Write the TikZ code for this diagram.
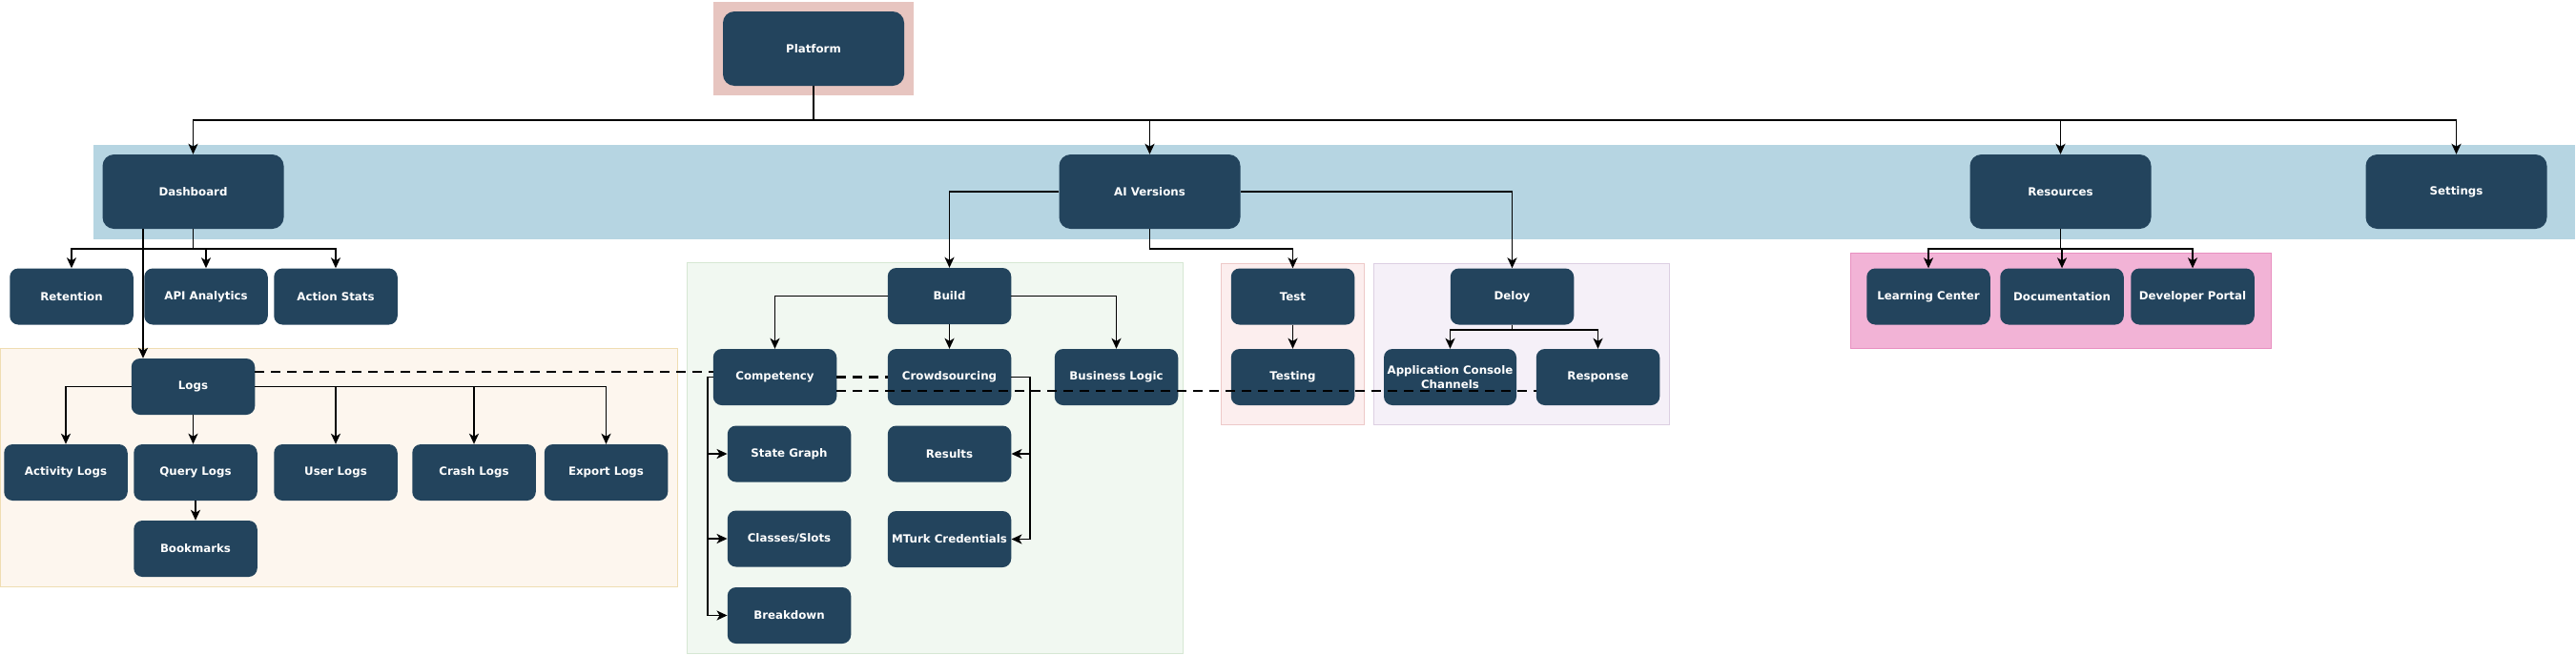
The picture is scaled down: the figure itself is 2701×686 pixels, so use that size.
\documentclass[tikz,border=0pt]{standalone}
\usepackage{fontspec}
\setmainfont{DejaVu Sans}
\usetikzlibrary{arrows.meta,calc}
\definecolor{boxblue}{HTML}{23445D}
\definecolor{platbg}{HTML}{E7C5C0}
\definecolor{bandbg}{HTML}{B6D5E2}
\definecolor{logsbg}{HTML}{FDF6EE}
\definecolor{logsbd}{HTML}{EFDDB2}
\definecolor{greenbg}{HTML}{F1F8F1}
\definecolor{greenbd}{HTML}{D6E7D3}
\definecolor{testbg}{HTML}{FCEEEE}
\definecolor{testbd}{HTML}{EDC9C8}
\definecolor{depbg}{HTML}{F5F0F8}
\definecolor{depbd}{HTML}{DCCFE2}
\definecolor{resbg}{HTML}{F2B3D6}
\definecolor{resbd}{HTML}{E890C0}
\tikzset{
  box/.style={rectangle, rounded corners=9pt, fill=boxblue, text=white,
    font=\fontsize{11.8}{15.5}\selectfont\bfseries, inner sep=0pt, align=center,
    minimum width=129.5pt, minimum height=59pt},
  bigbox/.style={box, rounded corners=12pt, minimum width=190pt, minimum height=78pt},
  arr/.style={draw=black, line width=1.8pt, -{Stealth[length=11pt,width=10pt,inset=3pt]}},
  conn/.style={draw=black, line width=1.8pt},
  dashline/.style={draw=black, line width=2.8pt, dash pattern=on 10pt off 7pt}
}
\begin{document}
\begin{tikzpicture}[x=1pt,y=-1pt]
\useasboundingbox (0,0) rectangle (2701,686);
% group backgrounds
\fill[platbg] (748,2) rectangle (958,100);
\fill[bandbg] (98,152) rectangle (2700,251);
\filldraw[fill=logsbg, draw=logsbd, line width=1pt] (0.5,365) rectangle (710,615);
\filldraw[fill=greenbg, draw=greenbd, line width=1pt] (720,275) rectangle (1240,685);
\filldraw[fill=testbg, draw=testbd, line width=1pt] (1280,276) rectangle (1430,445);
\filldraw[fill=depbg, draw=depbd, line width=1pt] (1440,276) rectangle (1750,445);
\filldraw[fill=resbg, draw=resbd, line width=1pt] (1940,265) rectangle (2381,365);

% nodes
\node[bigbox] (platform) at (853,51) {Platform};
\node[bigbox] (dash) at (202.5,201) {Dashboard};
\node[bigbox] (ai) at (1205.5,201) {AI Versions};
\node[bigbox] (res) at (2160.5,201) {Resources};
\node[bigbox] (set) at (2575.5,201) {Settings};

\node[box] (ret) at (75,311) {Retention};
\node[box] (api) at (216,311) {API Analytics};
\node[box] (act) at (352,311) {Action Stats};

\node[box] (logs) at (202.5,405.5) {Logs};
\node[box] (actl) at (69,495.5) {Activity Logs};
\node[box] (query) at (205,495.5) {Query Logs};
\node[box] (user) at (352,495.5) {User Logs};
\node[box] (crash) at (497,495.5) {Crash Logs};
\node[box] (export) at (635.5,495.5) {Export Logs};
\node[box] (book) at (205,575.5) {Bookmarks};

\node[box] (build) at (995.5,310.5) {Build};
\node[box] (comp) at (812.5,395.5) {Competency};
\node[box] (crowd) at (995.5,395.5) {Crowdsourcing};
\node[box] (bl) at (1170.5,395.5) {Business Logic};
\node[box] (sg) at (827.5,476) {State Graph};
\node[box] (results) at (995.5,476) {Results};
\node[box] (cls) at (827.5,565) {Classes/Slots};
\node[box] (mturk) at (995.5,565.5) {MTurk Credentials};
\node[box] (brk) at (827.5,645.5) {Breakdown};

\node[box] (test) at (1355.5,311) {Test};
\node[box] (testing) at (1355.5,395.5) {Testing};
\node[box] (deloy) at (1585.5,311) {Deloy};
\node[box, minimum width=139pt] (app) at (1520.5,395.5) {Application Console\\Channels};
\node[box] (resp) at (1675.5,395.5) {Response};

\node[box] (lc) at (2022,311) {Learning Center};
\node[box] (doc) at (2162,311) {Documentation};
\node[box] (dp) at (2299,311) {Developer Portal};

% helper coordinates
\coordinate (busP) at (853,126);
\coordinate (busD) at (202.5,261);
\coordinate (dl) at (150,0);
\coordinate (busA) at (1205.5,261);
\coordinate (cx) at (742,0);
\coordinate (cr) at (1080,0);
\coordinate (busT) at (1585.5,346);
\coordinate (busR) at (2160.5,261);
\coordinate (yd1) at (0,390);
\coordinate (yd2) at (0,410);

% Platform
\draw[arr] (platform.south) -- (busP) -| (dash.north);
\draw[arr] (platform.south) -- (busP) -| (ai.north);
\draw[arr] (platform.south) -- (busP) -| (res.north);
\draw[arr] (platform.south) -- (busP) -| (set.north);

% Dashboard
\draw[arr] (dash.south) -- (busD) -| (ret.north);
\draw[arr] (dash.south) -- (busD) -| (api.north);
\draw[arr] (dash.south) -- (busD) -| (act.north);
\draw[arr] (dash.south -| dl) -- (logs.north -| dl);

% Logs
\draw[arr] (logs.west) -| (actl.north);
\draw[arr] (logs.south) -- (logs.south |- query.north);
\draw[arr] (logs.east) -| (user.north);
\draw[arr] (logs.east) -| (crash.north);
\draw[arr] (logs.east) -| (export.north);
\draw[arr] (query.south) -- (book.north);

% AI Versions
\draw[arr] (ai.west) -| (build.north);
\draw[arr] (ai.east) -| (deloy.north);
\draw[arr] (ai.south) -- (busA) -| (test.north);

% Build
\draw[arr] (build.west) -| (comp.north);
\draw[arr] (build.east) -| (bl.north);
\draw[arr] (build.south) -- (crowd.north);

% Competency
\draw[arr] (comp.west) -- (comp.west -| cx) |- (sg.west);
\draw[arr] (comp.west) -- (comp.west -| cx) |- (cls.west);
\draw[arr] (comp.west) -- (comp.west -| cx) |- (brk.west);

% Crowdsourcing
\draw[arr] (crowd.east) -- (crowd.east -| cr) |- (results.east);
\draw[arr] (crowd.east) -- (crowd.east -| cr) |- (mturk.east);

% Test / Deloy
\draw[arr] (test.south) -- (testing.north);
\draw[arr] (deloy.south) -- (busT) -| (app.north);
\draw[arr] (deloy.south) -- (busT) -| (resp.north);

% Resources
\draw[arr] (res.south) -- (busR) -| (lc.north);
\draw[arr] (res.south) -- (busR) -| (doc.north);
\draw[arr] (res.south) -- (busR) -| (dp.north);

% dashed links
\draw[dashline] (logs.east |- yd1) -- (comp.west |- yd1);
\draw[dashline] (comp.east) -- (crowd.west);
\draw[dashline] (comp.east |- yd2) -- (resp.west |- yd2);
\end{tikzpicture}
\end{document}
